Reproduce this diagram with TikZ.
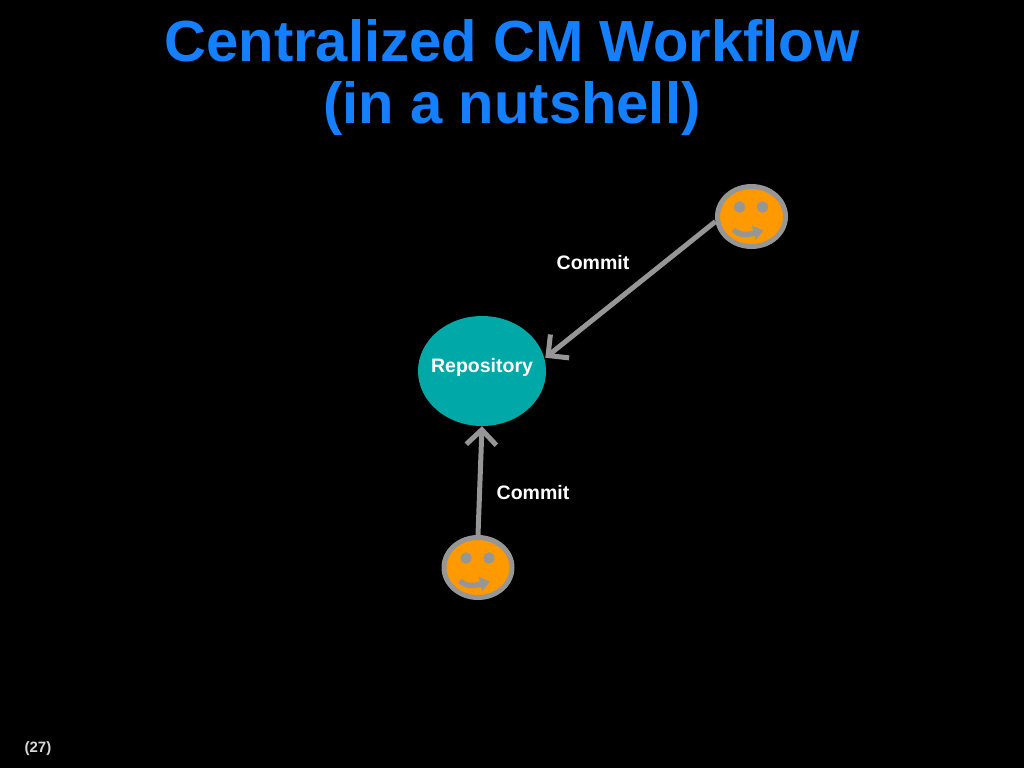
\documentclass[tikz,border=0pt]{standalone}
\usepackage{fontspec}
\setmainfont{Liberation Sans}
\usetikzlibrary{arrows.meta,shapes.geometric}
\definecolor{titleblue}{RGB}{20,128,255}
\definecolor{repoteal}{RGB}{0,168,168}
\definecolor{linegray}{RGB}{150,150,150}
\definecolor{faceorange}{RGB}{255,153,0}
\definecolor{pagegray}{RGB}{215,215,215}
\tikzset{
  titletext/.style={text=titleblue,font=\fontsize{58}{58}\selectfont\bfseries,inner sep=0pt,anchor=base},
  labeltext/.style={text=white,font=\fontsize{19.5}{19.5}\selectfont\bfseries,inner sep=0pt,anchor=base},
  repo/.style={ellipse,fill=repoteal,minimum width=128pt,minimum height=110pt,inner sep=0pt},
  face/.style={ellipse,fill=faceorange,draw=linegray,line width=5pt,minimum width=68pt,minimum height=60pt,inner sep=0pt},
  conn/.style={draw=linegray,line width=5pt,-{Straight Barb[length=15pt,width=30pt,line width=5pt]}},
}
\begin{document}
\begin{tikzpicture}[x=1pt,y=-1pt]
\fill[black] (0,0) rectangle (1024,768);
\useasboundingbox (0,0) rectangle (1024,768);
\node[titletext] (t1) at (512,61) {Centralized CM Workflow};
\node[titletext] (t2) at (512,123) {(in a nutshell)};
\node[repo] (repo) at (482,371) {};
\node[labeltext] (repolab) at (482,372) {Repository};
\node[face] (f1) at (751.5,216.5) {};
\node[face] (f2) at (478,567.5) {};
\foreach \f in {f1,f2}{
  \fill[linegray] (\f) ++(-12,-9.5) ellipse (5.5 and 5.8);
  \fill[linegray] (\f) ++(11,-9.5) ellipse (5.5 and 5.8);
  \draw[linegray,line width=5.5pt,-{Triangle[length=10pt,width=14pt]}] (\f) ++(-18,13) .. controls +(5,6) and +(-8,3) .. ++(22,3) -- ++(8,-2);
}
\coordinate (e1) at ([xshift=1pt]repo.12);
\draw[conn] (f1.188) -- (e1);
\draw[conn] (f2.north) -- (repo.south);
\node[labeltext] (c1) at (593,269) {Commit};
\node[labeltext] (c2) at (533,499) {Commit};
\node[text=pagegray,font=\fontsize{15}{15}\selectfont\bfseries,inner sep=0pt,anchor=base] (pg) at (38,752) {(27)};
\end{tikzpicture}
\end{document}
